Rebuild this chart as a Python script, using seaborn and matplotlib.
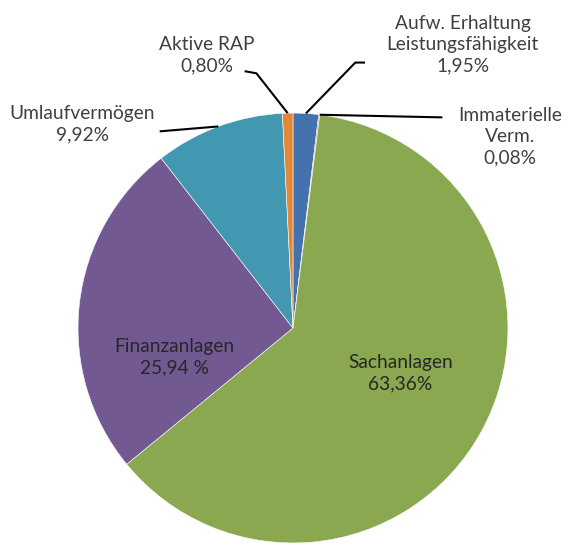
import numpy as np
import matplotlib
matplotlib.use("Agg")
import matplotlib.pyplot as plt
import seaborn as sns

# slices, clockwise from 12 o'clock
labels = ["Aufw. Erhaltung\nLeistungsfähigkeit", "Immaterielle\nVerm.", "Sachanlagen",
          "Finanzanlagen", "Umlaufvermögen", "Aktive RAP"]
values = [1.95, 0.08, 63.36, 25.94, 9.92, 0.80]
pct_text = ["1,95%", "0,08%", "63,36%", "25,94 %", "9,92%", "0,80%"]
colors = ["#4472ae", "#c0504d", "#8aa84f", "#735992", "#4198b0", "#e0873a"]

sns.set_theme(style="white")
plt.rcParams["font.family"] = ["Lato", "DejaVu Sans"]

fig = plt.figure(figsize=(5.78, 5.46), dpi=100)
ax = fig.add_axes([0, 0, 1, 1])

wedges, _ = ax.pie(values, startangle=90, counterclock=False,
                   colors=sns.color_palette(colors),
                   wedgeprops=dict(edgecolor="white", linewidth=0.4))
ax.set_xlim(-1.363, 1.326)
ax.set_ylim(-1.014, 1.526)
ax.axis("off")


def edge_point(w, r=1.0):
    ang = np.deg2rad((w.theta1 + w.theta2) / 2)
    return r * np.cos(ang), r * np.sin(ang)


# label text position, leader path (text end, elbow) or None
layout = {
    0: ((0.79, 1.32), [(0.335, 1.235), (0.29, 1.235)]),
    1: ((1.01, 0.89), [(0.695, 0.98)]),
    2: ((0.50, -0.21), None),
    3: ((-0.55, -0.135), None),
    4: ((-0.98, 0.95), [(-0.62, 0.915)]),
    5: ((-0.40, 1.27), [(-0.225, 1.195), (-0.17, 1.185)]),
}

for i, w in enumerate(wedges):
    (tx, ty), path = layout[i]
    inside = path is None
    ax.text(tx, ty, f"{labels[i]}\n{pct_text[i]}", ha="center", va="center",
            fontsize=13.8, linespacing=1.3,
            color="#262626" if inside else "#404040")
    if path:
        ex, ey = edge_point(w, 1.0)
        if i == 1:
            ex, ey = np.cos(np.deg2rad(w.theta1)), np.sin(np.deg2rad(w.theta1))
        xs = [p[0] for p in path] + [ex]
        ys = [p[1] for p in path] + [ey]
        ax.plot(xs, ys, color="black", lw=1.5, solid_capstyle="butt")

fig.savefig("out.png", dpi=100)
